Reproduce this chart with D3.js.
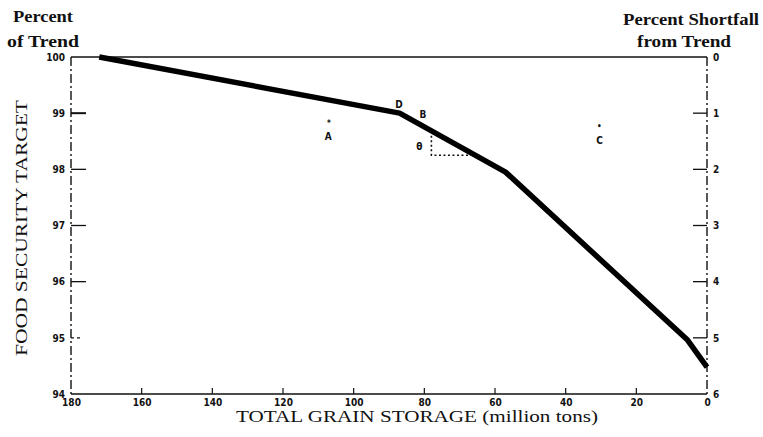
<!DOCTYPE html>
<html>
<head>
<meta charset="utf-8">
<script src="https://cdn.jsdelivr.net/npm/d3@7"></script>
<style>
  html, body { margin: 0; padding: 0; background: #fff; }
  svg { display: block; }
  .serif { font-family: "Liberation Serif", "DejaVu Serif", serif; fill: #111; }
  .tick { font-family: "DejaVu Sans Condensed", "DejaVu Sans", sans-serif; font-size: 10px; font-weight: bold; fill: #111; }
</style>
</head>
<body>
<svg id="chart" width="763" height="437"></svg>
<script>
// Food security target vs. total grain storage
const storage = [172, 87, 57, 5.5, 0];          // million tons
const percentOfTrend = [100, 99.0, 97.95, 94.96, 94.48];

const xTicks = [180, 160, 140, 120, 100, 80, 60, 40, 20, 0];
const yTicks = [100, 99, 98, 97, 96, 95, 94];
const shortfallTicks = [0, 1, 2, 3, 4, 5, 6];

// Point annotations: [label, storage, percent]
const pointLabels = [["D", 87.2, 99.16], ["B", 80.4, 98.98], ["A", 107.2, 98.58], ["C", 30.4, 98.52], ["θ", 81.4, 98.4]];
const pointMarks = [["*", 107, 98.82], ["•", 30.5, 98.76]];

// Angle construction under the curve
const thetaX = [78, 66.5];
const thetaY = 98.25;

const svg = d3.select("#chart");
const m = { left: 71, right: 707, top: 57, bottom: 394 };

const x = d3.scaleLinear().domain([180, 0]).range([m.left, m.right]);
const y = d3.scaleLinear().domain([94, 100]).range([m.bottom, m.top]);
const yR = d3.scaleLinear().domain([6, 0]).range([m.bottom, m.top]);

// frame
svg.append("line").attr("x1", m.left).attr("x2", m.right).attr("y1", m.top).attr("y2", m.top)
  .attr("stroke", "#111").attr("stroke-width", 1.3);
svg.append("line").attr("x1", m.left).attr("x2", m.right).attr("y1", m.bottom).attr("y2", m.bottom)
  .attr("stroke", "#111").attr("stroke-width", 1.6);
svg.append("line").attr("x1", m.left).attr("x2", m.left).attr("y1", m.top).attr("y2", m.bottom)
  .attr("stroke", "#111").attr("stroke-width", 1.4).attr("stroke-dasharray", "9,3,2,3");
svg.append("line").attr("x1", m.right).attr("x2", m.right).attr("y1", m.top).attr("y2", m.bottom)
  .attr("stroke", "#111").attr("stroke-width", 1.4).attr("stroke-dasharray", "9,3,2,3");

// left axis (percent of trend), ticks pointing inward
const leftAxis = d3.axisLeft(y).tickValues(yTicks).tickSize(0).tickPadding(6).tickFormat(d3.format("d"));
const gL = svg.append("g").attr("transform", `translate(${m.left},0)`).call(leftAxis);
gL.select(".domain").remove();
gL.selectAll("text").attr("class", "tick");
svg.append("g").selectAll("line").data(yTicks.filter(d => d > 94 && d < 100)).join("line")
  .attr("x1", m.left).attr("x2", d => m.left + (d === 95 ? 10 : 15))
  .attr("y1", d => y(d)).attr("y2", d => y(d))
  .attr("stroke", "#111").attr("stroke-width", d => d === 99 ? 2 : 1.3)
  .attr("stroke-dasharray", d => d === 95 ? "3,3" : null);

// right axis (percent shortfall from trend)
const rightAxis = d3.axisRight(yR).tickValues(shortfallTicks).tickSize(0).tickPadding(6).tickFormat(d3.format("d"));
const gR = svg.append("g").attr("transform", `translate(${m.right},0)`).call(rightAxis);
gR.select(".domain").remove();
gR.selectAll("text").attr("class", "tick");
svg.append("g").selectAll("line").data(shortfallTicks.filter(d => d > 0 && d < 6)).join("line")
  .attr("x1", m.right - 14).attr("x2", m.right)
  .attr("y1", d => yR(d)).attr("y2", d => yR(d))
  .attr("stroke", "#111").attr("stroke-width", 1.3);

// bottom axis (total grain storage)
const bottomAxis = d3.axisBottom(x).tickValues(xTicks).tickSize(0).tickPadding(5).tickFormat(d3.format("d"));
const gB = svg.append("g").attr("transform", `translate(0,${m.bottom})`).call(bottomAxis);
gB.select(".domain").remove();
gB.selectAll("text").attr("class", "tick");
svg.append("g").selectAll("line").data(xTicks.filter(d => d > 0 && d < 180)).join("line")
  .attr("x1", d => x(d)).attr("x2", d => x(d))
  .attr("y1", m.bottom - 6).attr("y2", m.bottom)
  .attr("stroke", "#111").attr("stroke-width", 1.2);

// the target curve
const line = d3.line().x(d => x(d[0])).y(d => y(d[1]));
svg.append("path").datum(d3.zip(storage, percentOfTrend)).attr("d", line)
  .attr("fill", "none").attr("stroke", "#000").attr("stroke-width", 5.5).attr("stroke-linejoin", "round");

// dotted angle below B
const curveAt = d3.scaleLinear().domain(storage).range(percentOfTrend);
svg.append("path")
  .attr("d", d3.line()([[x(thetaX[0]), y(curveAt(thetaX[0])) + 5], [x(thetaX[0]), y(thetaY)], [x(thetaX[1]), y(thetaY)]]))
  .attr("fill", "none").attr("stroke", "#111").attr("stroke-width", 1.6).attr("stroke-dasharray", "2,2.5");

// point marks and letters
svg.append("g").selectAll("text").data(pointMarks).join("text")
  .attr("class", "tick").attr("text-anchor", "middle")
  .attr("x", d => x(d[1])).attr("y", d => y(d[2])).attr("dy", "0.35em")
  .style("font-size", "8px").text(d => d[0]);
svg.append("g").selectAll("text").data(pointLabels).join("text")
  .attr("class", "tick").attr("text-anchor", "middle")
  .attr("x", d => x(d[1])).attr("y", d => y(d[2])).attr("dy", "0.35em")
  .style("font-size", "10px").text(d => d[0]);

// titles
const title = (txt, cx, by, len, fs) => svg.append("text").attr("class", "serif")
  .attr("x", cx).attr("y", by).attr("text-anchor", "middle")
  .style("font-size", fs + "px").style("font-weight", "bold")
  .attr("textLength", len).attr("lengthAdjust", "spacingAndGlyphs").text(txt);
title("Percent", 43, 22, 60, 17);
title("of Trend", 43, 47, 72, 17);
title("Percent Shortfall", 691, 25, 136, 16);
title("from Trend", 684, 47, 94, 16);

svg.append("text").attr("class", "serif").attr("x", 417).attr("y", 422).attr("text-anchor", "middle")
  .style("font-size", "17px").attr("textLength", 362).attr("lengthAdjust", "spacingAndGlyphs")
  .text("TOTAL GRAIN STORAGE (million tons)");
svg.append("text").attr("class", "serif").attr("transform", "translate(27,228) rotate(-90)").attr("text-anchor", "middle")
  .style("font-size", "17px").attr("textLength", 256).attr("lengthAdjust", "spacingAndGlyphs")
  .text("FOOD SECURITY TARGET");
</script>
</body>
</html>
